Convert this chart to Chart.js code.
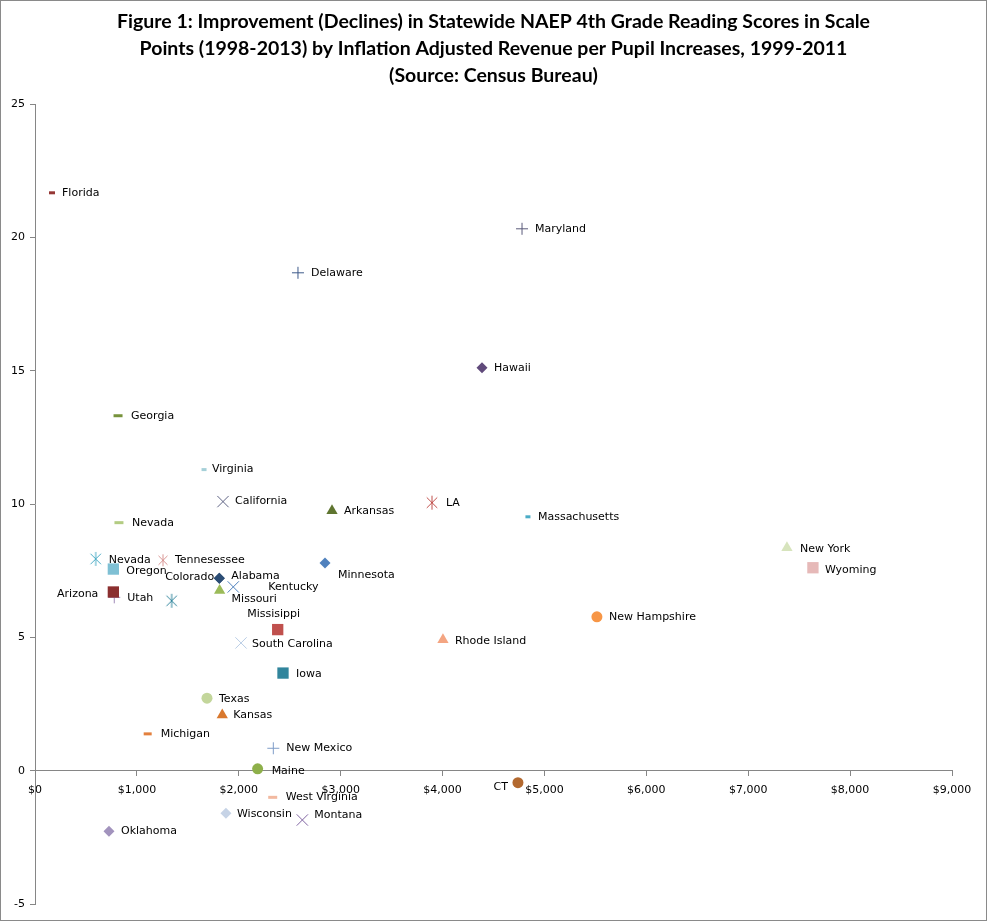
<!DOCTYPE html>
<html>
<head>
<meta charset="utf-8">
<script src="https://cdn.jsdelivr.net/npm/chart.js@4/dist/chart.umd.min.js"></script>
<style>
  body { margin: 0; background: #fff; }
  .frame { width: 987px; height: 921px; box-sizing: border-box; border: 1px solid #8a8a8a; }
  canvas { display: block; }
</style>
</head>
<body>
<div class="frame"><canvas id="naepChart" width="985" height="919"></canvas></div>
<script>
// data
const states = ['Florida', 'Maryland', 'Delaware', 'Hawaii', 'Georgia', 'Virginia', 'California', 'Arkansas', 'LA',
  'Massachusetts', 'Nevada', 'Nevada', 'Tennesessee', 'Oregon', 'Colorado', 'Alabama', 'Kentucky', 'Missouri',
  'Arizona', 'Utah', '', 'Minnesota', 'Missisippi', 'South Carolina', 'Iowa', 'Texas', 'Kansas', 'Michigan',
  'New Mexico', 'Maine', 'West Virginia', 'Wisconsin', 'Montana', 'Oklahoma', 'CT', 'Rhode Island',
  'New Hampshire', 'New York', 'Wyoming'];
const revenueIncrease = [167, 4780, 2581, 4387, 815, 1659, 1845, 2915, 3896,
  4838, 824, 596, 1256, 769, 1809, 1809, 1946, 1812,
  769, 778, 1341, 2846, 2382, 2022, 2434, 1688, 1838, 1106,
  2339, 2185, 2333, 1874, 2624, 726, 4740, 4004,
  5515, 7380, 7635];
const scoreChange = [21.67, 20.32, 18.67, 15.11, 13.31, 11.29, 10.09, 9.75, 10.05,
  9.52, 9.30, 7.94, 7.89, 7.56, 7.22, 7.22, 6.89, 6.76,
  6.70, 6.50, 6.37, 7.79, 5.29, 4.79, 3.66, 2.72, 2.09, 1.38,
  0.84, 0.07, -1.0, -1.60, -1.85, -2.27, -0.45, 4.91,
  5.77, 8.36, 7.61];
const yTicks = [-5, 0, 5, 10, 15, 20, 25];
const titleLines = [
  'Figure 1: Improvement (Declines) in Statewide NAEP 4th Grade Reading Scores in Scale',
  'Points (1998-2013) by Inflation Adjusted Revenue per Pupil Increases, 1999-2011',
  '(Source: Census Bureau)'
];

// marker look per state (Excel-ish); 'asterisk' is drawn below as a small canvas
const markers = ['line', 'cross', 'cross', 'rectRot', 'line', 'line', 'crossRot', 'triangle', 'asterisk',
  'line', 'line', 'asterisk', 'asterisk', 'rect', 'rectRot', 'rectRot', 'crossRot', 'triangle',
  'rect', 'cross', 'asterisk', 'rectRot', 'rect', 'crossRot', 'rect', 'circle', 'triangle', 'line',
  'cross', 'circle', 'line', 'rectRot', 'crossRot', 'rectRot', 'circle', 'triangle',
  'circle', 'triangle', 'rect'];
const colors = ['#953735', '#5a5a7a', '#3e5a8a', '#604a7b', '#77933c', '#a5d0d8', '#5f6384', '#5f7530', '#c0504d',
  '#4bacc6', '#b3cc82', '#4bacc6', '#d99694', '#7fc0d4', '#2c4d75', '#2c4d75', '#4f81bd', '#9bbb59',
  '#8b2f2f', '#a08ab8', '#31859c', '#4f81bd', '#c0504d', '#b9cde5', '#31859c', '#c3d69b', '#d9782d', '#e3803e',
  '#7f9cc8', '#8eb04a', '#f2b9a0', '#c6d3e6', '#8064a2', '#a293bd', '#b3692f', '#f4a582',
  '#f79646', '#d7e4bd', '#e6b9b8'];
const sizes = [3, 6, 6, 5.5, 4.5, 2.5, 8, 6.5, 7,
  2.5, 4.5, 7, 6, 8, 5.5, 5.5, 8, 6.5,
  8, 6, 7, 5.5, 8, 8, 8, 5.5, 6.5, 4,
  6, 5.5, 4.5, 5.5, 8, 5.5, 5.5, 6.5,
  5.5, 6.5, 8];
// label placement: [dx, dy, align]
const labelOffsets = [[10, 0, 'left'], [13, 0, 'left'], [13, 0, 'left'], [12, 0, 'left'], [13, 0, 'left'], [8, 0, 'left'], [12, 0, 'left'], [12, 0, 'left'], [14, 0, 'left'],
  [10, 0, 'left'], [13, 0, 'left'], [13, 1, 'left'], [12, 0, 'left'], [13, 2, 'left'], [-5, -1, 'right'], [12, -2, 'left'], [35, 0, 'left'], [12, 9, 'left'],
  [-15, 2, 'right'], [13, 1, 'left'], [0, 0, 'left'], [13, 12, 'left'], [-4, -15, 'center'], [11, 1, 'left'], [13, 1, 'left'], [12, 1, 'left'], [11, 0, 'left'], [13, 0, 'left'],
  [13, 0, 'left'], [14, 2, 'left'], [13, 0, 'left'], [11, 1, 'left'], [12, -5, 'left'], [12, 0, 'left'], [-10, 4, 'right'], [12, 1, 'left'],
  [12, 0, 'left'], [13, 1, 'left'], [12, 2, 'left']];

// Excel style asterisk: an X with a vertical stroke
function makeAsterisk(color, r) {
    const c = document.createElement('canvas');
    const s = Math.ceil(r * 2) + 2;
    c.width = s; c.height = s;
    const g = c.getContext('2d');
    const m = s / 2, d = r * 0.75;
    g.strokeStyle = color;
    g.lineWidth = 1;
    g.beginPath();
    g.moveTo(m - d, m - d); g.lineTo(m + d, m + d);
    g.moveTo(m + d, m - d); g.lineTo(m - d, m + d);
    g.moveTo(m, m - r); g.lineTo(m, m + r);
    g.stroke();
    return c;
}

const datasets = states.map((name, i) => ({
    label: name,
    data: [{ x: revenueIncrease[i], y: scoreChange[i] }],
    pointStyle: markers[i] === 'asterisk' ? makeAsterisk(colors[i], sizes[i]) : markers[i],
    pointRadius: sizes[i],
    backgroundColor: colors[i],
    borderColor: colors[i],
    borderWidth: markers[i] === 'line' ? 3 : (['cross', 'crossRot'].includes(markers[i]) ? 1 : 0)
}));

// point labels next to each marker
const pointLabels = {
    id: 'pointLabels',
    afterDatasetsDraw(chart) {
        const ctx = chart.ctx;
        ctx.save();
        ctx.font = '11px "DejaVu Sans"';
        ctx.fillStyle = '#000';
        ctx.textBaseline = 'middle';
        chart.data.datasets.forEach((ds, i) => {
            if (!ds.label) return;
            const pt = chart.getDatasetMeta(i).data[0];
            const [dx, dy, align] = labelOffsets[i];
            ctx.textAlign = align;
            ctx.fillText(ds.label, pt.x + dx, pt.y + dy);
        });
        ctx.restore();
    }
};

// title centred on the whole picture
const titleBlock = {
    id: 'titleBlock',
    afterDraw(chart) {
        const ctx = chart.ctx;
        ctx.save();
        ctx.font = 'bold 19.5px Lato';
        ctx.fillStyle = '#000';
        ctx.textAlign = 'center';
        ctx.textBaseline = 'middle';
        titleLines.forEach((line, k) => ctx.fillText(line, chart.width / 2, 21 + k * 27));
        ctx.restore();
    }
};

const ctx1 = document.getElementById('naepChart').getContext('2d');
const naepChart = new Chart(ctx1, {
    type: 'scatter',
    data: { datasets },
    options: {
        responsive: false,
        animation: false,
        layout: { padding: { top: 103, right: 34, bottom: 16, left: 0 } },
        plugins: {
            legend: { display: false },
            tooltip: { enabled: false }
        },
        scales: {
            x: {
                type: 'linear',
                position: { y: 0 },
                min: 0,
                max: 9000,
                ticks: {
                    stepSize: 1000,
                    padding: 8,
                    color: '#000',
                    font: { family: 'DejaVu Sans', size: 11 },
                    callback: v => '$' + v.toLocaleString('en-US')
                },
                grid: { drawOnChartArea: false, color: '#868686', tickLength: 5 },
                border: { color: '#868686' }
            },
            y: {
                type: 'linear',
                position: 'left',
                min: -5,
                max: 25,
                afterFit: s => { s.width = 34; },
                afterBuildTicks: s => { s.ticks = yTicks.map(v => ({ value: v })); },
                ticks: {
                    padding: 5,
                    color: '#000',
                    font: { family: 'DejaVu Sans', size: 11 }
                },
                grid: { drawOnChartArea: false, color: '#868686', tickLength: 5 },
                border: { color: '#868686' }
            }
        }
    },
    plugins: [pointLabels, titleBlock]
});
</script>
</body>
</html>
